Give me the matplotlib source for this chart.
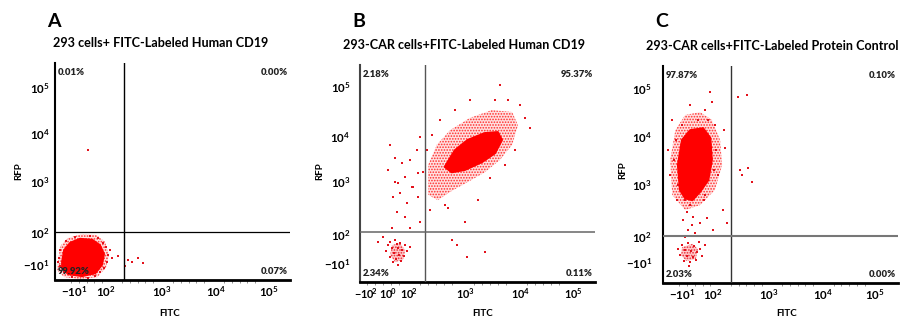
import matplotlib
matplotlib.use("Agg")
import matplotlib.pyplot as plt
from matplotlib.patches import Polygon

plt.rcParams['font.family'] = ['Lato', 'DejaVu Sans']
plt.rcParams['mathtext.fontset'] = 'custom'
plt.rcParams['mathtext.rm'] = 'Lato:bold'
plt.rcParams['mathtext.it'] = 'Lato:bold'
plt.rcParams['mathtext.bf'] = 'Lato:bold'
plt.rcParams['mathtext.default'] = 'rm'
plt.rcParams['hatch.linewidth'] = 0.8

# ---------------- data (axis units: ~decades of the cytometer scale) ----------------
panel_letters = ["A", "B", "C"]
titles = ["293 cells+ FITC-Labeled Human CD19",
          "293-CAR cells+FITC-Labeled Human CD19",
          "293-CAR cells+FITC-Labeled Protein Control"]
quadrant_pcts = [["0.01%", "0.00%", "99.92%", "0.07%"],   # UL, UR, LL, LR
                 ["2.18%", "95.37%", "2.34%", "0.11%"],
                 ["97.87%", "0.10%", "2.03%", "0.00%"]]

xtick_pos_A = [1.25, 1.88, 2.98, 4.04, 5.08]
xtick_lab_A = [r"$-10^{1}$", r"$10^{2}$", r"$10^{3}$", r"$10^{4}$", r"$10^{5}$"]
xtick_pos_B = [1.19, 1.60, 1.98, 3.04, 4.08, 5.06]
xtick_lab_B = [r"$-10^{\!2}$", r"$10^{\!0}$", r"$10^{\!2}$", r"$10^{3}$", r"$10^{4}$", r"$10^{5}$"]
xtick_pos_C = [1.25, 1.85, 2.94, 3.99, 5.00]
xtick_lab_C = [r"$-10^{1}$", r"$10^{2}$", r"$10^{3}$", r"$10^{4}$", r"$10^{5}$"]
ytick_lab = [r"$10^{5}$", r"$10^{4}$", r"$10^{3}$", r"$10^{2}$", r"$-10^{1}$"]
ytick_pos_A = [4.94, 4.02, 3.04, 1.98, 1.33]
ytick_pos_B = [4.98, 3.96, 3.04, 1.94, 1.35]
ytick_pos_C = [4.98, 4.00, 3.02, 1.94, 1.41]

gate_x = [2.235, 2.29, 2.20]
gate_y = [1.99, 2.00, 1.96]

# Panel A: dense population outline, halo outline, individual sparse events
coreA_x = [1.02, 1.06, 1.18, 1.37, 1.61, 1.76, 1.84, 1.80, 1.67, 1.41, 1.14, 1.02]
coreA_y = [1.39, 1.63, 1.78, 1.86, 1.84, 1.73, 1.55, 1.33, 1.16, 1.10, 1.14, 1.27]
haloA_x = [0.94, 0.98, 1.14, 1.41, 1.69, 1.86, 1.94, 1.88, 1.71, 1.37, 1.06, 0.92]
haloA_y = [1.39, 1.71, 1.88, 1.96, 1.94, 1.80, 1.53, 1.27, 1.08, 1.04, 1.08, 1.22]
dotsA_x = [1.88, 1.92, 1.90, 1.84, 1.76, 1.73, 1.57, 1.27, 1.10, 0.98, 0.96, 0.98, 1.06,
           1.22, 1.53, 1.96, 2.00, 1.82, 1.67, 0.94,
           2.12, 2.31, 2.39, 2.51, 2.61, 2.25, 1.53]
dotsA_y = [1.69, 1.53, 1.39, 1.27, 1.18, 1.88, 1.92, 1.90, 1.82, 1.63, 1.47, 1.31, 1.18,
           1.08, 1.06, 1.63, 1.47, 1.78, 1.10, 1.39,
           1.51, 1.43, 1.39, 1.47, 1.37, 1.31, 3.67]

# Panel B
coreB_x = [2.66, 2.85, 3.09, 3.41, 3.65, 3.73, 3.60, 3.36, 3.04, 2.79]
coreB_y = [3.33, 3.67, 3.88, 4.02, 4.04, 3.88, 3.61, 3.43, 3.27, 3.22]
haloB_x = [2.35, 2.35, 2.51, 2.76, 3.13, 3.54, 3.92, 4.03, 3.92, 3.69, 3.41, 3.09, 2.76, 2.53]
haloB_y = [2.76, 3.37, 3.78, 4.08, 4.33, 4.49, 4.45, 4.18, 3.78, 3.47, 3.22, 3.02, 2.82, 2.65]
lowB_x = [1.67, 1.82, 1.92, 1.88, 1.73, 1.64]
lowB_y = [1.73, 1.78, 1.63, 1.43, 1.39, 1.53]
dotsB_x = [1.64, 1.73, 1.86, 2.01, 2.14, 2.20, 1.92, 1.79, 2.05, 1.69, 2.16, 2.25, 1.60,
           1.73, 1.82, 1.95, 1.77, 1.92, 2.07, 2.16, 1.67, 2.01, 1.50, 2.20, 1.41,
           1.64, 1.73, 1.82, 1.92, 1.67, 1.79, 1.86, 1.71, 1.80, 1.90, 1.64, 1.75, 1.84,
           1.69, 1.95, 1.56, 1.79, 2.01, 1.60, 1.77,
           2.79, 2.89, 3.07, 3.41, 3.04, 3.28, 2.72,
           4.07, 4.16, 3.84, 3.60, 4.25, 3.97, 3.79, 2.57, 2.42, 2.85, 3.13, 3.69, 2.33,
           2.38, 2.66, 3.50]
dotsB_y = [3.78, 3.51, 3.41, 3.47, 3.67, 3.94, 3.12, 3.00, 2.92, 2.71, 2.71, 3.22, 3.27,
           3.02, 2.80, 2.59, 2.41, 2.31, 2.92, 3.20, 2.08, 2.08, 1.90, 2.20, 1.80,
           1.80, 1.84, 1.78, 1.73, 1.67, 1.67, 1.63, 1.57, 1.53, 1.51, 1.49, 1.45, 1.41,
           1.39, 1.61, 1.61, 1.33, 1.69, 1.73, 1.76,
           1.84, 1.73, 1.49, 1.59, 2.20, 2.65, 2.49,
           4.59, 4.33, 4.69, 4.69, 4.12, 3.67, 3.37, 4.29, 3.98, 4.49, 4.69, 5.00, 3.67,
           2.45, 2.55, 3.10]

# Panel C
coreC_x = [1.21, 1.17, 1.25, 1.41, 1.66, 1.80, 1.83, 1.76, 1.60, 1.45, 1.31]
coreC_y = [2.90, 3.41, 3.92, 4.12, 4.16, 3.96, 3.51, 3.10, 2.86, 2.69, 2.73]
haloC_x = [1.06, 1.02, 1.12, 1.31, 1.60, 1.83, 1.99, 2.03, 1.89, 1.60, 1.31]
haloC_y = [2.80, 3.51, 4.12, 4.43, 4.49, 4.33, 3.92, 3.41, 2.90, 2.59, 2.49]
lowC_x = [1.25, 1.45, 1.56, 1.52, 1.33, 1.23]
lowC_y = [1.73, 1.80, 1.69, 1.49, 1.45, 1.57]
dotsC_x = [1.80, 1.83, 1.76, 1.70, 1.41, 1.89, 2.09, 0.98, 1.02, 1.06, 1.95, 2.07,
           2.34, 2.51, 2.38, 2.53, 2.61, 2.42,
           1.31, 1.41, 1.35, 1.47, 1.27, 1.45, 1.37, 1.50, 1.31, 1.60, 2.05, 2.13, 1.85, 1.74,
           1.25, 1.37, 1.49, 1.31, 1.43, 1.54, 1.21, 1.35, 1.47, 1.60, 1.29, 1.41, 1.52,
           1.64, 1.17, 1.39, 1.70, 1.58,
           1.14, 1.10, 1.17, 1.91, 1.87, 1.70, 1.25, 1.56, 1.16, 1.68]
dotsC_y = [4.90, 4.69, 4.33, 4.53, 4.63, 4.22, 3.76, 3.71, 3.20, 4.33, 3.20, 4.12,
           4.80, 4.84, 3.31, 3.35, 3.06, 3.20,
           2.69, 2.59, 2.45, 2.35, 2.29, 2.18, 2.08, 2.02, 1.94, 2.22, 2.49, 2.22, 2.08, 2.33,
           1.78, 1.82, 1.76, 1.67, 1.65, 1.63, 1.57, 1.55, 1.53, 1.69, 1.45, 1.43, 1.47,
           1.55, 1.69, 1.35, 1.78, 1.84,
           3.92, 3.51, 3.00, 3.71, 3.31, 2.80, 4.22, 4.33, 2.69, 2.69]

# ---------------- layout ----------------
W, H = 909, 323
fig = plt.figure(figsize=(W / 100, H / 100), dpi=100)

def fx(px):
    return px / W

def fy(py):
    return 1 - py / H

axes_px = [(55, 63, 290, 280), (360, 65, 595, 282), (663, 66, 898, 283)]  # left, top, right, bottom
xlims = [(0.88, 5.49), (1.075, 5.47), (0.88, 5.45)]
ylims = [(1.02, 5.45), (0.98, 5.41), (1.00, 5.43)]
xticks = [(xtick_pos_A, xtick_lab_A), (xtick_pos_B, xtick_lab_B), (xtick_pos_C, xtick_lab_C)]
xlabsize = [8.3, 7.8, 8.3]
yticks = [ytick_pos_A, ytick_pos_B, ytick_pos_C]
ypads = [4.0, 7.0, 8.0]
cores = [(coreA_x, coreA_y), (coreB_x, coreB_y), (coreC_x, coreC_y)]
halos = [(haloA_x, haloA_y), (haloB_x, haloB_y), (haloC_x, haloC_y)]
lows = [None, (lowB_x, lowB_y), (lowC_x, lowC_y)]
dots = [(dotsA_x, dotsA_y), (dotsB_x, dotsB_y), (dotsC_x, dotsC_y)]
gate_col = ["black", "#555555", "#333333"]
hgate_col = ["black", "#666666", "#777777"]
hgate_lw = [0.9, 1.1, 1.5]
left_col = ["black", "#444444", "black"]
title_cx = [161, 464, 772]
title_y = [43, 45, 46]
letter_x = [47, 352, 655]
fitc_cx = [170, 483, 787]
rfp_x = [18.5, 320, 623]
rfp_y = [171, 171, 170]

red = "#ff0000"

for i in range(3):
    l, t, r, b = axes_px[i]
    ax = fig.add_axes([fx(l), fy(b), (r - l) / W, (b - t) / H])
    ax.set_xlim(*xlims[i])
    ax.set_ylim(*ylims[i])

    hx, hy = halos[i]
    ax.add_patch(Polygon(list(zip(hx, hy)), closed=True, facecolor=(1, 0, 0, 0.12),
                         edgecolor=(1, 0.1, 0.1, 0.9), hatch="......", linewidth=0, zorder=1))
    cx, cy = cores[i]
    ax.add_patch(Polygon(list(zip(cx, cy)), closed=True, facecolor=red,
                         edgecolor=red, linewidth=1.5, joinstyle="round", zorder=2))
    if lows[i] is not None:
        lx, ly = lows[i]
        ax.add_patch(Polygon(list(zip(lx, ly)), closed=True, facecolor=(1, 0.2, 0.2, 0.25),
                             edgecolor=(0.9, 0.1, 0.15, 0.9), hatch="......", linewidth=0, zorder=2))
    dx, dy = dots[i]
    ax.scatter(dx, dy, s=1.8, color="#e3121c", marker="s", linewidths=0, zorder=3)

    ax.axvline(gate_x[i], color=gate_col[i], lw=1.0, zorder=4)
    ax.axhline(gate_y[i], color=hgate_col[i], lw=hgate_lw[i], zorder=4)

    for side in ("top", "right"):
        ax.spines[side].set_visible(False)
    ax.spines["left"].set_linewidth(1.5)
    ax.spines["left"].set_color(left_col[i])
    ax.spines["bottom"].set_linewidth(2.0)

    xp, xl = xticks[i]
    ax.set_xticks(xp)
    ax.set_xticklabels(xl)
    ax.set_yticks(yticks[i])
    ax.set_yticklabels(ytick_lab)
    ax.tick_params(axis="x", length=0, pad=3, labelsize=xlabsize[i])
    ax.tick_params(axis="y", length=0, pad=ypads[i], labelsize=8.3)
    ax.set_xticks([v + d for v in (1.5, 2.5, 3.5, 4.5) for d in (-0.3, -0.15, 0.0, 0.15, 0.3)], minor=True)
    ax.tick_params(axis="x", which="minor", length=2, width=0.5, color="#666666", direction="out")

    ul, ur, ll, lr = quadrant_pcts[i]
    kw = dict(transform=ax.transAxes, fontsize=6.8, fontweight="heavy", color="#222222", zorder=5)
    ax.text(0.01, 0.955, ul, ha="left", va="center", **kw)
    ax.text(0.992, 0.955, ur, ha="right", va="center", **kw)
    ax.text(0.01, 0.038, ll, ha="left", va="center", **kw)
    ax.text(0.992, 0.038, lr, ha="right", va="center", **kw)

    fig.text(fx(title_cx[i]), fy(title_y[i]), titles[i], ha="center", va="center",
             fontsize=9.1, fontweight="bold")
    fig.text(fx(letter_x[i]), fy(21.5), panel_letters[i], ha="left", va="center",
             fontsize=14, fontweight="bold")
    fig.text(fx(fitc_cx[i]), fy(314), "FITC", ha="center", va="center",
             fontsize=7, fontweight="bold")
    fig.text(fx(rfp_x[i]), fy(rfp_y[i]), "RFP", ha="center", va="center", rotation=90,
             fontsize=7, fontweight="bold")

fig.savefig("out.png", dpi=100)
